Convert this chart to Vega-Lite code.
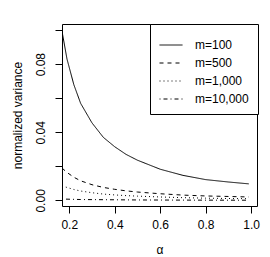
{
  "$schema": "https://vega.github.io/schema/vega-lite/v6.json",
  "width": 195,
  "height": 182,
  "autosize": {"type": "none"},
  "padding": {"left": 62, "top": 24, "right": 13, "bottom": 51},
  "background": "white",
  "config": {
    "view": {"stroke": "black", "strokeWidth": 1},
    "font": "Liberation Sans",
    "axis": {
      "domain": false,
      "grid": false,
      "tickColor": "black",
      "tickSize": 7,
      "labelColor": "black",
      "labelFontSize": 12,
      "titleFontSize": 12,
      "titleFontWeight": "normal",
      "titleColor": "black",
      "labelFont": "Liberation Sans",
      "titleFont": "Liberation Sans"
    }
  },
  "data": {
    "values": [
      {"alpha": 0.168, "v": 0.0994, "m": "m=100"},
      {"alpha": 0.19, "v": 0.083, "m": "m=100"},
      {"alpha": 0.22, "v": 0.068, "m": "m=100"},
      {"alpha": 0.25, "v": 0.057, "m": "m=100"},
      {"alpha": 0.3, "v": 0.0455, "m": "m=100"},
      {"alpha": 0.35, "v": 0.037, "m": "m=100"},
      {"alpha": 0.4, "v": 0.0315, "m": "m=100"},
      {"alpha": 0.45, "v": 0.027, "m": "m=100"},
      {"alpha": 0.5, "v": 0.0236, "m": "m=100"},
      {"alpha": 0.6, "v": 0.0183, "m": "m=100"},
      {"alpha": 0.7, "v": 0.0147, "m": "m=100"},
      {"alpha": 0.8, "v": 0.0122, "m": "m=100"},
      {"alpha": 0.9, "v": 0.0108, "m": "m=100"},
      {"alpha": 0.99, "v": 0.0097, "m": "m=100"},
      {"alpha": 0.168, "v": 0.019, "m": "m=500"},
      {"alpha": 0.19, "v": 0.0164, "m": "m=500"},
      {"alpha": 0.22, "v": 0.0136, "m": "m=500"},
      {"alpha": 0.25, "v": 0.0115, "m": "m=500"},
      {"alpha": 0.3, "v": 0.0092, "m": "m=500"},
      {"alpha": 0.35, "v": 0.0076, "m": "m=500"},
      {"alpha": 0.4, "v": 0.0065, "m": "m=500"},
      {"alpha": 0.45, "v": 0.0056, "m": "m=500"},
      {"alpha": 0.5, "v": 0.0049, "m": "m=500"},
      {"alpha": 0.6, "v": 0.0039, "m": "m=500"},
      {"alpha": 0.7, "v": 0.0031, "m": "m=500"},
      {"alpha": 0.8, "v": 0.0026, "m": "m=500"},
      {"alpha": 0.9, "v": 0.0023, "m": "m=500"},
      {"alpha": 0.99, "v": 0.002, "m": "m=500"},
      {"alpha": 0.168, "v": 0.0085, "m": "m=1,000"},
      {"alpha": 0.19, "v": 0.0076, "m": "m=1,000"},
      {"alpha": 0.22, "v": 0.0064, "m": "m=1,000"},
      {"alpha": 0.25, "v": 0.0055, "m": "m=1,000"},
      {"alpha": 0.3, "v": 0.0045, "m": "m=1,000"},
      {"alpha": 0.35, "v": 0.0037, "m": "m=1,000"},
      {"alpha": 0.4, "v": 0.0032, "m": "m=1,000"},
      {"alpha": 0.45, "v": 0.0028, "m": "m=1,000"},
      {"alpha": 0.5, "v": 0.0025, "m": "m=1,000"},
      {"alpha": 0.6, "v": 0.002, "m": "m=1,000"},
      {"alpha": 0.7, "v": 0.0016, "m": "m=1,000"},
      {"alpha": 0.8, "v": 0.0013, "m": "m=1,000"},
      {"alpha": 0.9, "v": 0.0011, "m": "m=1,000"},
      {"alpha": 0.99, "v": 0.001, "m": "m=1,000"},
      {"alpha": 0.168, "v": 0.0008, "m": "m=10,000"},
      {"alpha": 0.25, "v": 0.0005, "m": "m=10,000"},
      {"alpha": 0.35, "v": 0.0004, "m": "m=10,000"},
      {"alpha": 0.5, "v": 0.00025, "m": "m=10,000"},
      {"alpha": 0.7, "v": 0.00016, "m": "m=10,000"},
      {"alpha": 0.99, "v": 0.0001, "m": "m=10,000"}
    ]
  },
  "mark": {"type": "line", "color": "black", "strokeWidth": 1, "clip": true},
  "encoding": {
    "x": {
      "field": "alpha",
      "type": "quantitative",
      "scale": {"domain": [0.168, 1.026], "nice": false, "zero": false},
      "axis": {
        "values": [0.2, 0.4, 0.6, 0.8, 1.0],
        "format": ".1f",
        "title": "α",
        "labelPadding": 6,
        "titlePadding": 14,
        "labelFlush": false
      }
    },
    "y": {
      "field": "v",
      "type": "quantitative",
      "scale": {"domain": [-0.0033, 0.1036], "nice": false, "zero": false},
      "axis": {
        "values": [0, 0.02, 0.04, 0.06, 0.08, 0.1],
        "labelExpr": "(datum.value == 0 || abs(datum.value - 0.04) < 0.001 || abs(datum.value - 0.08) < 0.001) ? format(datum.value, '.2f') : ''",
        "title": "normalized variance",
        "labelAngle": -90,
        "labelAlign": "center",
        "labelBaseline": "bottom",
        "labelPadding": 8,
        "titlePadding": 10,
        "labelFlush": false
      }
    },
    "strokeDash": {
      "field": "m",
      "type": "nominal",
      "scale": {
        "domain": ["m=100", "m=500", "m=1,000", "m=10,000"],
        "range": [[1, 0], [4, 4], [1, 3], [1, 3, 4, 3]]
      },
      "legend": {
        "orient": "none",
        "legendX": 88,
        "legendY": 0,
        "title": null,
        "strokeColor": "black",
        "fillColor": "white",
        "padding": 9,
        "symbolType": "stroke",
        "symbolSize": 529,
        "symbolStrokeWidth": 1,
        "symbolStrokeColor": "black",
        "labelFontSize": 12,
        "labelColor": "black",
        "labelFont": "Liberation Sans",
        "labelOffset": 12,
        "rowPadding": 0
      }
    }
  }
}
